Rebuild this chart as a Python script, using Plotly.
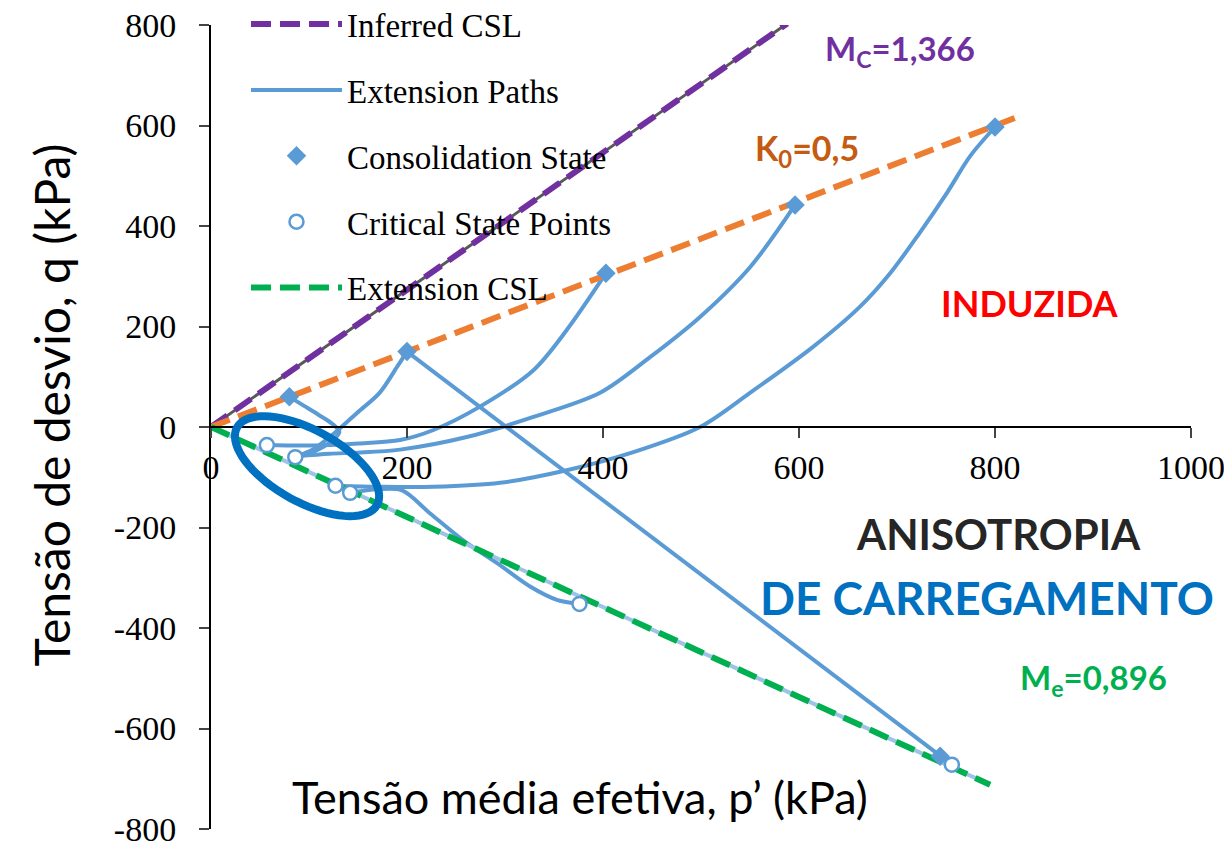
import numpy as np
import plotly.graph_objects as go

# reference lines (end points)
csl_c_p = [0, 588]
csl_c_q = [0, 803]
k0_p = [0, 823]
k0_q = [0, 617]
csl_e_p = [0, 795]
csl_e_q = [0, -712]

# extension stress paths (p', q) in kPa
path_80_p = [80, 95, 110, 124, 131, 122, 106, 88]
path_80_q = [60, 42, 24, 6, -10, -30, -48, -58]
path_200_p = [200, 190, 172, 149, 132, 118, 103, 88]
path_200_q = [150, 120, 68, 28, -2, -25, -46, -58]
path_400_p = [403, 363, 329, 274, 227, 193, 150, 121, 90, 57]
path_400_q = [306, 193, 113, 40, -6, -26, -33, -36, -37, -36]
path_600_p = [596, 550, 499, 448, 397, 329, 261, 193, 150, 121, 88]
path_600_q = [442, 318, 219, 139, 68, 20, -20, -45, -51, -53, -58]
path_800_p = [800, 775, 751, 723, 693, 662, 614, 550, 499, 431, 363, 295, 227, 172, 127]
path_800_q = [597, 540, 466, 386, 306, 239, 159, 68, 0, -50, -86, -111, -119, -119, -117]
path_ext_p = [142, 170, 195, 223, 257, 292, 326, 353, 376]
path_ext_q = [-131, -124, -126, -171, -225, -271, -318, -344, -352]
path_lin_p = [200, 744, 756]
path_lin_q = [150, -655, -672]

# markers
cons_p = [80, 200, 403, 596, 800, 744]
cons_q = [60, 150, 306, 442, 597, -655]
crit_p = [57, 86, 127, 142, 376, 756]
crit_q = [-36, -60, -117, -131, -352, -672]

x_ticks = [0, 200, 400, 600, 800, 1000]
x_tick_text = ["0", "200", "400", "600", "800", "1000"]
y_ticks = [-800, -600, -400, -200, 0, 200, 400, 600, 800]
y_tick_text = ["-800", "-600", "-400", "-200", "0", "200", "400", "600", "800"]

BLUE = "#5B9BD5"
SERIF = "Liberation Serif, Times New Roman, serif"
SANS = "Lato, Open Sans, sans-serif"
DASH = "20px,9px"

fig = go.Figure()

paths = [(path_80_p, path_80_q), (path_200_p, path_200_q), (path_400_p, path_400_q),
         (path_600_p, path_600_q), (path_800_p, path_800_q), (path_ext_p, path_ext_q)]
for i, (pp, qq) in enumerate(paths):
    fig.add_trace(go.Scatter(x=pp, y=qq, mode="lines", line=dict(color=BLUE, width=4, shape="spline", smoothing=0.9),
                             name="Extension Paths", legendgroup="paths", legendrank=2, showlegend=(i == 0)))
fig.add_trace(go.Scatter(x=path_lin_p, y=path_lin_q, mode="lines", line=dict(color=BLUE, width=4),
                         legendgroup="paths", showlegend=False))

# compression CSL with grey line underneath
fig.add_trace(go.Scatter(x=csl_c_p, y=csl_c_q, mode="lines", line=dict(color="#595959", width=3),
                         showlegend=False, hoverinfo="skip"))
fig.add_trace(go.Scatter(x=csl_c_p, y=csl_c_q, mode="lines", line=dict(color="#7030A0", width=6, dash=DASH),
                         name="Inferred CSL", legendgroup="csl", legendrank=1))
fig.add_trace(go.Scatter(x=k0_p, y=k0_q, mode="lines", line=dict(color="#ED7D31", width=6, dash=DASH),
                         showlegend=False))
# extension CSL with light blue line underneath
fig.add_trace(go.Scatter(x=csl_e_p, y=csl_e_q, mode="lines", line=dict(color="#9DC3E6", width=4),
                         showlegend=False, hoverinfo="skip"))
fig.add_trace(go.Scatter(x=csl_e_p, y=csl_e_q, mode="lines", line=dict(color="#00B050", width=6, dash=DASH),
                         name="Extension CSL", legendgroup="ecsl", legendrank=5))

fig.add_trace(go.Scatter(x=cons_p, y=cons_q, mode="markers",
                         marker=dict(symbol="diamond", size=15, color=BLUE),
                         name="Consolidation State", legendgroup="cons", legendrank=3))
fig.add_trace(go.Scatter(x=crit_p, y=crit_q, mode="markers",
                         marker=dict(symbol="circle", size=14, color="white", line=dict(color=BLUE, width=2.5)),
                         name="Critical State Points", legendgroup="crit", legendrank=4))

# highlight ellipse around the low-pressure critical states (built in pixels, mapped to data)
px_per_x = 980 / 1000
px_per_y = 804 / 1600
cx, cy = 98, -78
a, b, th = 80, 36, np.radians(29)
t = np.linspace(0, 2 * np.pi, 73)
dx = a * np.cos(th) * np.cos(t) - b * np.sin(th) * np.sin(t)
dy = a * np.sin(th) * np.cos(t) + b * np.cos(th) * np.sin(t)
ex = cx + dx / px_per_x
ey = cy - dy / px_per_y
path = "M " + " L ".join(f"{u:.2f},{v:.2f}" for u, v in zip(ex, ey)) + " Z"
fig.add_shape(type="path", path=path, xref="x", yref="y", line=dict(color="#0070C0", width=8))

notes = [
    dict(x=703, y=750, text="M<sub>C</sub>=1,366", color="#7030A0", size=33),
    dict(x=608, y=551, text="K<sub>0</sub>=0,5", color="#C55A11", size=34),
    dict(x=836, y=247, text="INDUZIDA", color="#FF0000", size=36),
    dict(x=804, y=-213, text="ANISOTROPIA", color="#262626", size=42),
    dict(x=792, y=-340, text="DE CARREGAMENTO", color="#0070C0", size=46),
    dict(x=901, y=-503, text="M<sub>e</sub>=0,896", color="#00B050", size=33),
]
for n in notes:
    fig.add_annotation(x=n["x"], y=n["y"], text=f"<b>{n['text']}</b>", showarrow=False,
                       font=dict(family=SANS, size=n["size"], color=n["color"]))

fig.add_annotation(x=0.3765, y=0.04, xref="paper", yref="paper", xanchor="center", yanchor="middle",
                   text="Tensão média efetiva, p’ (kPa)", showarrow=False,
                   font=dict(family=SANS, size=45, color="black"))
fig.add_annotation(x=-0.163, y=0.527, xref="paper", yref="paper", xanchor="center", yanchor="middle",
                   textangle=-90, text="Tensão de desvio, q (kPa)", showarrow=False,
                   font=dict(family=SANS, size=48, color="black"))

# page body adds 8 px around the figure, so margins are offset to keep the plot box in place
fig.update_layout(
    width=1232, height=843,
    margin=dict(l=203, r=49, t=17, b=22, autoexpand=False),
    paper_bgcolor="white", plot_bgcolor="white",
    showlegend=True,
    legend=dict(x=0.0357, y=1.036, xanchor="left", yanchor="top",
                bgcolor="rgba(0,0,0,0)", font=dict(family=SERIF, size=33, color="black"),
                traceorder="grouped", tracegroupgap=20, itemwidth=91),
    xaxis=dict(range=[0, 1000], tickvals=x_ticks, ticktext=x_tick_text, anchor="free", position=0.5,
               showline=True, linecolor="black", linewidth=2, ticks="outside", ticklen=10, tickwidth=2,
               showgrid=False, zeroline=False, automargin=False, ticklabeloverflow="allow",
               tickfont=dict(family=SERIF, size=34, color="black")),
    yaxis=dict(range=[-800, 800], tickvals=y_ticks, ticktext=y_tick_text,
               showline=True, linecolor="black", linewidth=2, ticks="outside", ticklen=10, tickwidth=2,
               showgrid=False, zeroline=False, automargin=False, ticklabelstandoff=16,
               ticklabeloverflow="allow", tickfont=dict(family=SERIF, size=34, color="black")),
)

fig.write_html("out.html")
